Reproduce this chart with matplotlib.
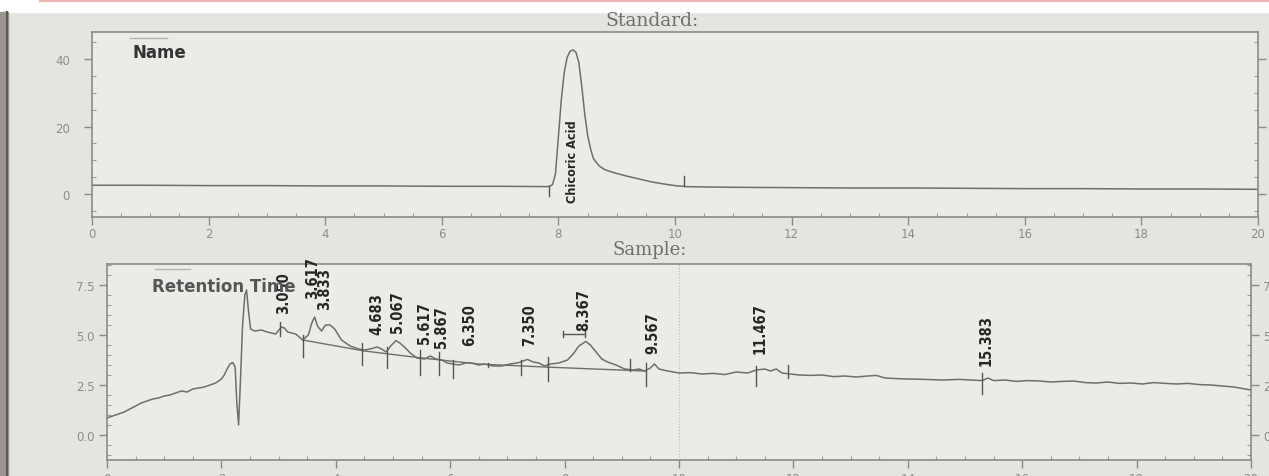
"""Standard vs sample HPLC chromatogram (photo of a printout)."""
import matplotlib

matplotlib.use("Agg")
import matplotlib.pyplot as plt  # noqa: E402
from matplotlib.lines import Line2D  # noqa: E402
from matplotlib.patches import Rectangle  # noqa: E402
from matplotlib.ticker import FormatStrFormatter, MultipleLocator  # noqa: E402

W, H = 1269, 477

# ---- standard trace (min, mAU) ----
std_time = [0, 1, 2, 3, 4, 5, 6, 7, 7.8, 7.85, 7.9, 7.95, 8.0, 8.05, 8.1,
            8.15, 8.2, 8.25, 8.3, 8.35, 8.4, 8.45, 8.5, 8.55, 8.6, 8.7, 8.8,
            8.9, 9.0, 9.2, 9.4, 9.6, 9.8, 10.0, 10.2, 10.5, 11, 12, 13, 14,
            15, 16, 17, 18, 19, 20]
std_signal = [2.6, 2.6, 2.5, 2.5, 2.4, 2.4, 2.3, 2.3, 2.2, 2.3, 2.8, 6.0,
              17.0, 28.0, 36.0, 40.5, 42.3, 42.7, 42.0, 39.0, 32.0, 24.0,
              17.5, 13.5, 10.5, 8.3, 7.2, 6.6, 6.1, 5.2, 4.4, 3.6, 3.0, 2.5,
              2.2, 2.1, 2.0, 1.9, 1.8, 1.8, 1.7, 1.6, 1.6, 1.5, 1.5, 1.4]
std_marks = [(7.84, 2.3, -0.5), (10.16, 5.4, 2.3)]
std_label = ("Chicoric Acid", 8.25, -2.4)

# ---- sample trace ----
smp_time = [0.0, 0.1, 0.2, 0.3, 0.4, 0.5, 0.6, 0.7, 0.8, 0.9, 1.0, 1.1, 1.2,
            1.3, 1.4, 1.5, 1.6, 1.7, 1.8, 1.9, 2.0, 2.05, 2.1, 2.15, 2.2,
            2.24, 2.27, 2.3, 2.33, 2.37, 2.41, 2.44, 2.47, 2.51, 2.58, 2.7,
            2.8, 2.95, 3.05, 3.1, 3.16, 3.3, 3.42, 3.52, 3.58, 3.63, 3.68,
            3.75, 3.82, 3.9, 3.98, 4.1, 4.25, 4.4, 4.5, 4.6, 4.72, 4.8, 4.88,
            4.96, 5.05, 5.12, 5.2, 5.3, 5.42, 5.55, 5.65, 5.75, 5.85, 5.95,
            6.05, 6.15, 6.3, 6.4, 6.5, 6.6, 6.75, 6.9, 7.05, 7.2, 7.35, 7.45,
            7.55, 7.65, 7.75, 7.9, 8.05, 8.15, 8.25, 8.37, 8.45, 8.55, 8.65,
            8.75, 8.9, 9.05, 9.2, 9.3, 9.4, 9.5, 9.57, 9.65, 9.8, 10.0, 10.2,
            10.4, 10.6, 10.8, 11.0, 11.2, 11.35, 11.5, 11.6, 11.7, 11.8,
            11.95, 12.1, 12.3, 12.5, 12.7, 12.9, 13.1, 13.3, 13.45, 13.6,
            13.8, 14.0, 14.3, 14.6, 14.9, 15.1, 15.3, 15.4, 15.5, 15.7, 15.9,
            16.1, 16.3, 16.5, 16.7, 16.9, 17.1, 17.3, 17.5, 17.7, 17.9, 18.1,
            18.3, 18.5, 18.7, 18.9, 19.1, 19.3, 19.5, 19.7, 19.9, 20.0]
smp_signal = [0.85, 0.95, 1.05, 1.15, 1.3, 1.45, 1.6, 1.7, 1.8, 1.85, 1.95,
              2.0, 2.1, 2.2, 2.15, 2.3, 2.35, 2.4, 2.5, 2.6, 2.8, 3.0, 3.3,
              3.55, 3.62, 3.4, 1.6, 0.5, 2.5, 5.5, 7.0, 7.25, 6.3, 5.3, 5.2,
              5.25, 5.15, 5.05, 5.4, 5.35, 5.15, 5.05, 4.75, 5.0, 5.6, 5.9,
              5.45, 5.2, 5.5, 5.5, 5.3, 4.75, 4.45, 4.3, 4.25, 4.3, 4.4, 4.3,
              4.15, 4.45, 4.72, 4.6, 4.4, 4.1, 3.85, 3.8, 3.95, 3.8, 3.75, 3.6,
              3.55, 3.5, 3.62, 3.58, 3.5, 3.55, 3.45, 3.45, 3.55, 3.62, 3.78,
              3.65, 3.6, 3.45, 3.55, 3.6, 3.75, 4.05, 4.45, 4.68, 4.5, 4.15,
              3.8, 3.65, 3.5, 3.3, 3.25, 3.3, 3.2, 3.35, 3.55, 3.3, 3.2, 3.1,
              3.12, 3.05, 3.08, 3.02, 3.15, 3.1, 3.25, 3.3, 3.2, 3.3, 3.1,
              3.05, 3.0, 2.98, 3.0, 2.92, 2.95, 2.9, 2.95, 2.98, 2.85, 2.82,
              2.8, 2.78, 2.75, 2.78, 2.75, 2.72, 2.85, 2.72, 2.75, 2.68, 2.72,
              2.7, 2.65, 2.68, 2.7, 2.62, 2.6, 2.65, 2.58, 2.6, 2.55, 2.62,
              2.58, 2.55, 2.58, 2.52, 2.5, 2.45, 2.4, 2.3, 2.25]
base_time = [3.42, 4.5, 5.5, 6.5, 7.65, 9.4]
base_signal = [4.75, 4.2, 3.85, 3.55, 3.4, 3.2]
smp_marks = [(3.03, 5.65, 4.95), (3.42, 5.0, 3.9), (4.46, 4.6, 3.5),
             (4.9, 4.4, 3.35), (5.47, 4.25, 3.0), (5.8, 4.15, 3.0),
             (6.05, 3.75, 2.85), (6.66, 3.62, 3.42), (7.24, 3.75, 3.0),
             (7.71, 3.9, 2.7), (9.15, 3.8, 3.2), (9.42, 3.6, 2.45),
             (11.34, 3.43, 2.45), (11.9, 3.5, 2.86), (15.3, 3.1, 2.05)]
peak_labels = ["3.050", "3.617", "3.833", "4.683", "5.067", "5.617", "5.867",
               "6.350", "7.350", "8.367", "9.567", "11.467", "15.383"]
peak_x = [3.09, 3.6, 3.81, 4.71, 5.08, 5.55, 5.85, 6.34, 7.39, 8.33, 9.54,
          11.41, 15.37]
peak_y = [6.1, 6.86, 6.29, 5.07, 5.15, 4.58, 4.41, 4.5, 4.5, 5.23, 4.08,
          4.08, 3.51]

TRACE = "#6e6e6e"
MARK = "#555555"
TICKC = "#8c8c8c"


def px_rect(left, top, right, bottom):
    return [left / W, 1 - bottom / H, (right - left) / W, (bottom - top) / H]


def style_axes(ax, ymajor, yminor):
    ax.set_facecolor("#ebebe7")
    for sp in ax.spines.values():
        sp.set_color("#8a8a8a")
        sp.set_linewidth(1.2)
    ax.set_xlim(0, 20)
    ax.xaxis.set_major_locator(MultipleLocator(2))
    ax.xaxis.set_minor_locator(MultipleLocator(0.5))
    ax.yaxis.set_major_locator(MultipleLocator(ymajor))
    ax.yaxis.set_minor_locator(MultipleLocator(yminor))
    ax.tick_params(which="major", direction="out", length=6, width=1,
                   color="#8a8a8a", labelcolor=TICKC, labelsize=8.5, pad=3)
    ax.tick_params(which="minor", direction="in", length=3, width=0.8,
                   color="#9a9a9a")
    ax.tick_params(axis="y", right=True, which="both")


def draw_marks(ax, marks):
    for x, y0, y1 in marks:
        ax.plot([x, x], [y0, y1], color=MARK, lw=1.0)


def narrow_text(ax, x, y, s, size):
    # condensed bold labels standing on the peaks
    ax.text(x, y, s, rotation=90, ha="center", va="bottom", fontsize=size,
            fontweight="bold", fontstretch="condensed", color="#262626",
            family="DejaVu Sans")


fig = plt.figure(figsize=(W / 100, H / 100), dpi=100)
fig.patch.set_facecolor("#e4e4e0")

# photo framing: white strip with pink rule on top, dark edge on the left
fig.patches.append(Rectangle((0, 1 - 13 / H), 1, 13 / H,
                             transform=fig.transFigure, color="white", zorder=0))
fig.lines.append(Line2D([40 / W, 1], [1 - 2 / H, 1 - 2 / H],
                        transform=fig.transFigure, color="#efb3b3", lw=1.6))
fig.patches.append(Rectangle((0, 0), 8 / W, 1 - 13 / H,
                             transform=fig.transFigure, color="#9a958f", zorder=0))
fig.lines.append(Line2D([7 / W, 7 / W], [0, 1 - 13 / H],
                        transform=fig.transFigure, color="#5e5a55", lw=1.5))

# ---- top: standard ----
ax1 = fig.add_axes(px_rect(92, 33, 1258, 218))
style_axes(ax1, 20, 5)
ax1.set_ylim(-6.8, 48.0)
ax1.tick_params(axis="y", which="major", pad=10)
ax1.tick_params(axis="x", which="major", pad=1.5)
ax1.plot(std_time, std_signal, color=TRACE, lw=1.1)
draw_marks(ax1, std_marks)
narrow_text(ax1, std_label[1], std_label[2], std_label[0], 9)
ax1.plot([0.65, 1.29], [46.3, 46.3], color="#b5b5b5", lw=1)
ax1.text(0.69, 42.1, "Name", fontsize=12, fontweight="bold", color="#333333",
         va="center", ha="left")
fig.text(652 / W, 1 - 21 / H, "Standard:", ha="center", va="center",
         family="DejaVu Serif", fontsize=13.5, color="#6f6f6f")

# ---- bottom: sample ----
ax2 = fig.add_axes(px_rect(107, 265, 1251, 461))
style_axes(ax2, 2.5, 0.5)
ax2.set_ylim(-1.25, 8.55)
ax2.tick_params(axis="y", labelright=True)
ax2.yaxis.set_major_formatter(FormatStrFormatter("%.1f"))
ax2.axvline(10, color="#b8b8b8", lw=0.8, ls=":")
ax2.plot(smp_time, smp_signal, color=TRACE, lw=1.1)
ax2.plot(base_time, base_signal, color=TRACE, lw=1.0)
draw_marks(ax2, smp_marks)
ax2.plot([7.98, 8.36], [5.05, 5.05], color=MARK, lw=1.0)
ax2.plot([7.98, 7.98], [4.9, 5.2], color=MARK, lw=1.0)
ax2.plot([8.36, 8.36], [4.9, 5.2], color=MARK, lw=1.0)
for lab, x, y in zip(peak_labels, peak_x, peak_y):
    narrow_text(ax2, x, y, lab, 10.5)
ax2.plot([0.84, 1.45], [8.3, 8.3], color="#b5b5b5", lw=1)
ax2.text(0.79, 7.45, "Retention Time", fontsize=12, fontweight="bold",
         color="#555555", va="center", ha="left")
fig.text(650 / W, 1 - 250 / H, "Sample:", ha="center", va="center",
         family="DejaVu Serif", fontsize=13, color="#6f6f6f")

fig.savefig("out.png", dpi=100, facecolor=fig.get_facecolor())
